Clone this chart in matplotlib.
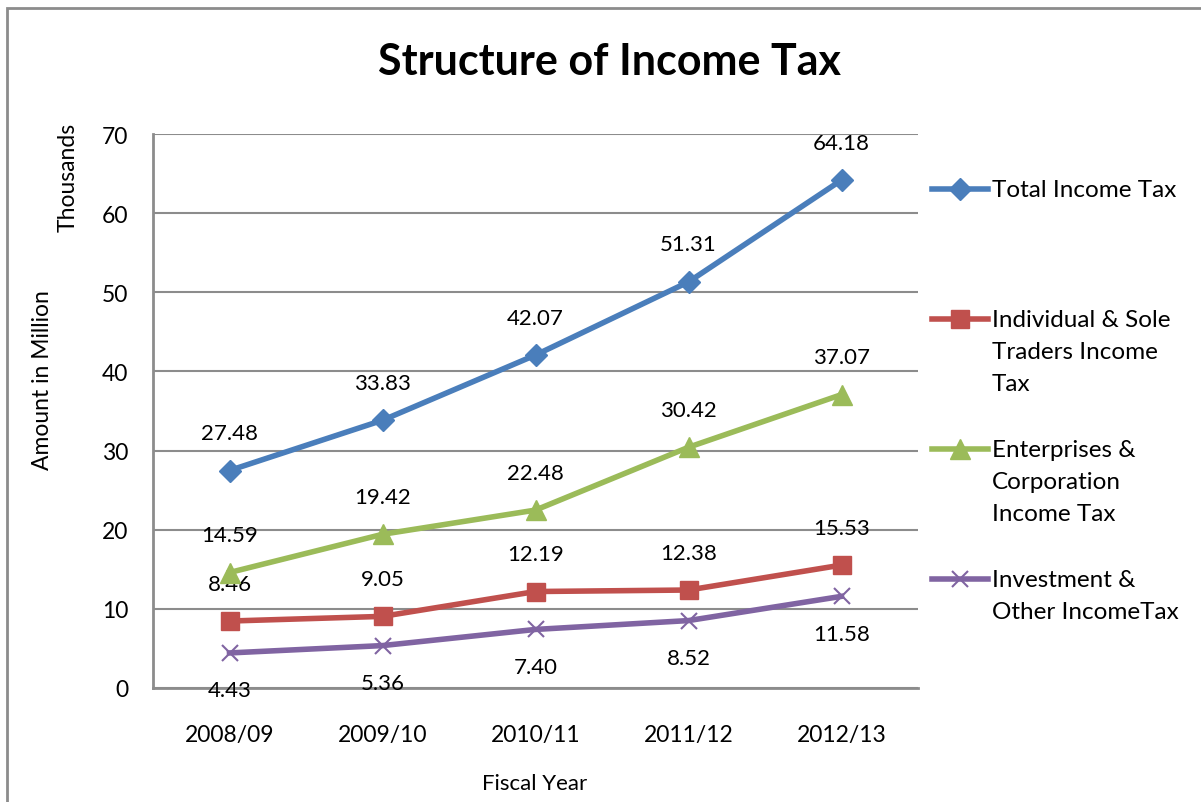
import matplotlib.pyplot as plt
from matplotlib.lines import Line2D
from matplotlib.patches import Rectangle

plt.rcParams['font.family'] = ['Lato', 'DejaVu Sans']

years = ['2008/09', '2009/10', '2010/11', '2011/12', '2012/13']
total = [27.48, 33.83, 42.07, 51.31, 64.18]
individual = [8.46, 9.05, 12.19, 12.38, 15.53]
enterprises = [14.59, 19.42, 22.48, 30.42, 37.07]
investment = [4.43, 5.36, 7.40, 8.52, 11.58]

series = [
    ('Total Income Tax', total, '#4a7ebb', 'D', 11, 1),
    ('Individual & Sole\nTraders Income\nTax', individual, '#c0504d', 's', 13, 1),
    ('Enterprises &\nCorporation\nIncome Tax', enterprises, '#9bbb59', '^', 14, 1),
    ('Investment &\nOther IncomeTax', investment, '#8064a2', 'x', 12, -1),
]
# legend rows (pixel y of first line)
legend_y = [190, 320, 450, 580]

W, H = 1201, 803
fig = plt.figure(figsize=(W / 100, H / 100), dpi=100)
ax = fig.add_axes([153 / W, 1 - 689 / H, 765 / W, 554 / H])

# chart frame
fig.patches.append(Rectangle((7 / W, -0.1), 1.2, 1 - 9 / H + 0.1,
                             transform=fig.transFigure, fill=False,
                             edgecolor='#8c8c8c', linewidth=2))

x = range(len(years))
for (name, vals, col, mk, ms, side), ly in zip(series, legend_y):
    style = dict(color=col, linewidth=4, marker=mk, markersize=ms)
    if mk == 'x':
        style['markeredgewidth'] = 1.5
    else:
        style['markeredgecolor'] = col
    ax.plot(x, vals, zorder=3, **style)
    for i, v in enumerate(vals):
        ax.annotate('%.2f' % v, (i, v), xytext=(0, 27 * side),
                    textcoords='offset points', ha='center', va='center',
                    fontsize=16)
    # legend entry
    fy = 1 - ly / H
    fig.add_artist(Line2D([932 / W, 960 / W, 988 / W], [fy, fy, fy],
                          markevery=[1], transform=fig.transFigure, **style))
    fig.text(992 / W, fy + 10 / H, name, ha='left', va='top',
             fontsize=17.5, linespacing=1.66)

ax.set_xlim(-0.5, 4.5)
ax.set_ylim(0, 70)
ax.set_yticks(range(0, 71, 10))
ax.set_xticks(list(x))
ax.set_xticklabels(years)
ax.tick_params(axis='both', length=0, labelsize=16.5, colors='black')
ax.tick_params(axis='y', pad=18)
ax.tick_params(axis='x', pad=26)
ax.grid(axis='y', color='#8c8c8c', linewidth=1.5)
ax.set_axisbelow(True)
for s in ['top', 'right']:
    ax.spines[s].set_visible(False)
for s in ['left', 'bottom']:
    ax.spines[s].set_color('#8c8c8c')
    ax.spines[s].set_linewidth(2)

fig.text(609 / W, 1 - 62 / H, 'Structure of Income Tax', ha='center',
         va='center', fontsize=31, fontweight='bold')
fig.text(68 / W, 1 - 177 / H, 'Thousands', rotation=90, ha='center',
         va='center', fontsize=16.5)
fig.text(43 / W, 1 - 380 / H, 'Amount in Million', rotation=90,
         ha='center', va='center', fontsize=16.5)
fig.text(535 / W, 1 - 784 / H, 'Fiscal Year', ha='center', va='center',
         fontsize=16)

fig.savefig('out.png', dpi=100)
